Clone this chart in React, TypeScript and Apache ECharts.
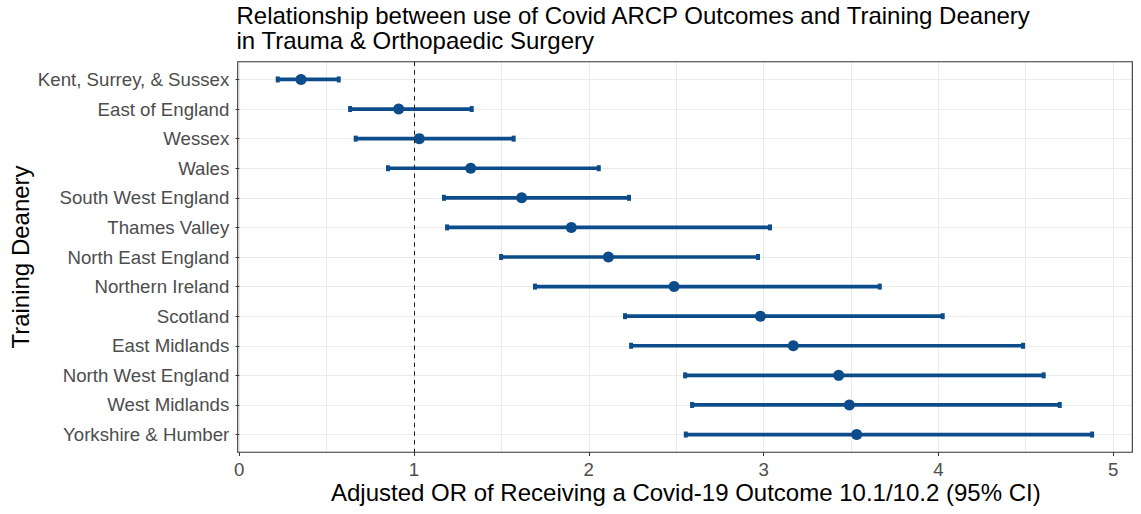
import React, { useEffect, useRef } from 'react';
import * as echarts from 'echarts';

const deaneries = [
  'Kent, Surrey, & Sussex',
  'East of England',
  'Wessex',
  'Wales',
  'South West England',
  'Thames Valley',
  'North East England',
  'Northern Ireland',
  'Scotland',
  'East Midlands',
  'North West England',
  'West Midlands',
  'Yorkshire & Humber',
];
const oddsRatio = [0.353, 0.912, 1.03, 1.324, 1.616, 1.9, 2.112, 2.488, 2.982, 3.17, 3.43, 3.491, 3.533];
const ciLower = [0.22, 0.634, 0.666, 0.851, 1.171, 1.189, 1.498, 1.692, 2.207, 2.242, 2.551, 2.591, 2.555];
const ciUpper = [0.569, 1.33, 1.57, 2.057, 2.23, 3.037, 2.968, 3.665, 4.025, 4.485, 4.603, 4.695, 4.88];
const xTickValues = [0, 1, 2, 3, 4, 5];
const referenceOR = 1;

const COLOR = '#0C4C8A';
const FONT = 'Liberation Sans, Arial, sans-serif';

export default function App() {
  const ref = useRef<HTMLDivElement>(null);
  useEffect(() => {
    document.body.style.margin = '0';
    const chart = echarts.init(ref.current!, null, { renderer: 'svg' });
    const rowIdx = deaneries.map((_, i) => i);
    const errData = rowIdx.map((i) => [ciLower[i], ciUpper[i], i]);
    const ptData = rowIdx.map((i) => [oddsRatio[i], i]);

    const gridLeft = 239.3;
    const gridTop = 61.7;
    const gridRight = 1141 - 1132.3;
    const gridBottom = 514 - 452.3;

    chart.setOption({
      animation: false,
      backgroundColor: '#ffffff',
      textStyle: { fontFamily: FONT },
      title: {
        text: 'Relationship between use of Covid ARCP Outcomes and Training Deanery\nin Trauma & Orthopaedic Surgery',
        left: 236.5,
        top: 3,
        padding: 0,
        textStyle: {
          fontFamily: FONT,
          fontSize: 24,
          lineHeight: 25,
          fontWeight: 'normal',
          color: '#000000',
        },
      },
      grid: {
        left: gridLeft,
        top: gridTop,
        right: gridRight,
        bottom: gridBottom,
        show: false,
        containLabel: false,
        outerBoundsMode: 'none',
      },
      xAxis: [
        {
          type: 'value',
          min: 0,
          max: 5.11,
          interval: 0.5,
          axisLine: { show: false },
          axisTick: { show: false },
          splitLine: { show: true, lineStyle: { color: '#EBEBEB', width: 1 } },
          axisLabel: {
            customValues: xTickValues,
            color: '#4D4D4D',
            fontSize: 18.67,
            fontFamily: FONT,
            margin: 7.5,
          },
          name: 'Adjusted OR of Receiving a Covid-19 Outcome 10.1/10.2 (95% CI)',
          nameLocation: 'middle',
          nameGap: 28,
          nameMoveOverlap: false,
          nameTextStyle: { color: '#000000', fontSize: 24, fontFamily: FONT },
        },
        {
          type: 'value',
          gridIndex: 0,
          position: 'bottom',
          min: 0,
          max: 5.11,
          axisLine: { show: false },
          axisTick: {
            show: true,
            customValues: xTickValues,
            length: 3.7,
            lineStyle: { color: '#333333', width: 1 },
          },
          axisLabel: { show: false },
          splitLine: { show: false },
        },
      ],
      yAxis: {
        type: 'value',
        min: -0.6,
        max: 12.6,
        inverse: true,
        offset: 1.6,
        axisLine: { show: false },
        axisTick: {
          show: true,
          customValues: rowIdx,
          length: 3.7,
          lineStyle: { color: '#333333', width: 1 },
        },
        splitLine: { show: true, lineStyle: { color: '#EBEBEB', width: 1 } },
        axisLabel: {
          customValues: rowIdx,
          formatter: (v: number) => deaneries[Math.round(v)] ?? '',
          color: '#4D4D4D',
          fontSize: 18.67,
          fontFamily: FONT,
          margin: 8.4,
        },
        name: 'Training Deanery',
        nameLocation: 'middle',
        nameRotate: 90,
        nameGap: 205,
        nameMoveOverlap: false,
        nameTextStyle: { color: '#000000', fontSize: 24, fontFamily: FONT },
      },
      graphic: [
        {
          type: 'rect',
          z: 100,
          silent: true,
          shape: { x: 237.7, y: 61.7, width: 1132.3 - 237.7, height: 452.3 - 61.7 },
          style: { fill: 'none', stroke: '#333333', lineWidth: 1.07 },
        },
      ],
      series: [
        {
          type: 'line',
          data: [],
          z: 1,
          markLine: {
            silent: true,
            symbol: 'none',
            label: { show: false },
            lineStyle: { color: '#1a1a1a', width: 1, type: [4.3, 4.3] },
            data: [{ xAxis: referenceOR }],
          },
        },
        {
          type: 'custom',
          z: 2,
          data: errData,
          encode: { x: [0, 1], y: 2 },
          renderItem: (params: any, api: any) => {
            const lo = api.coord([api.value(0), api.value(2)]);
            const hi = api.coord([api.value(1), api.value(2)]);
            const capW = 4;
            const capH = 6;
            return {
              type: 'group',
              children: [
                {
                  type: 'line',
                  shape: { x1: lo[0], y1: lo[1], x2: hi[0], y2: hi[1] },
                  style: { stroke: COLOR, lineWidth: 3.7 },
                },
                {
                  type: 'rect',
                  shape: { x: lo[0] - capW / 2, y: lo[1] - capH / 2, width: capW, height: capH },
                  style: { fill: COLOR },
                },
                {
                  type: 'rect',
                  shape: { x: hi[0] - capW / 2, y: hi[1] - capH / 2, width: capW, height: capH },
                  style: { fill: COLOR },
                },
              ],
            };
          },
        },
        {
          type: 'scatter',
          z: 3,
          data: ptData,
          symbol: 'circle',
          symbolSize: 11,
          itemStyle: { color: COLOR, opacity: 1 },
        },
      ],
    });
    return () => chart.dispose();
  }, []);
  return <div ref={ref} style={{ width: 1141, height: 514 }} />;
}
